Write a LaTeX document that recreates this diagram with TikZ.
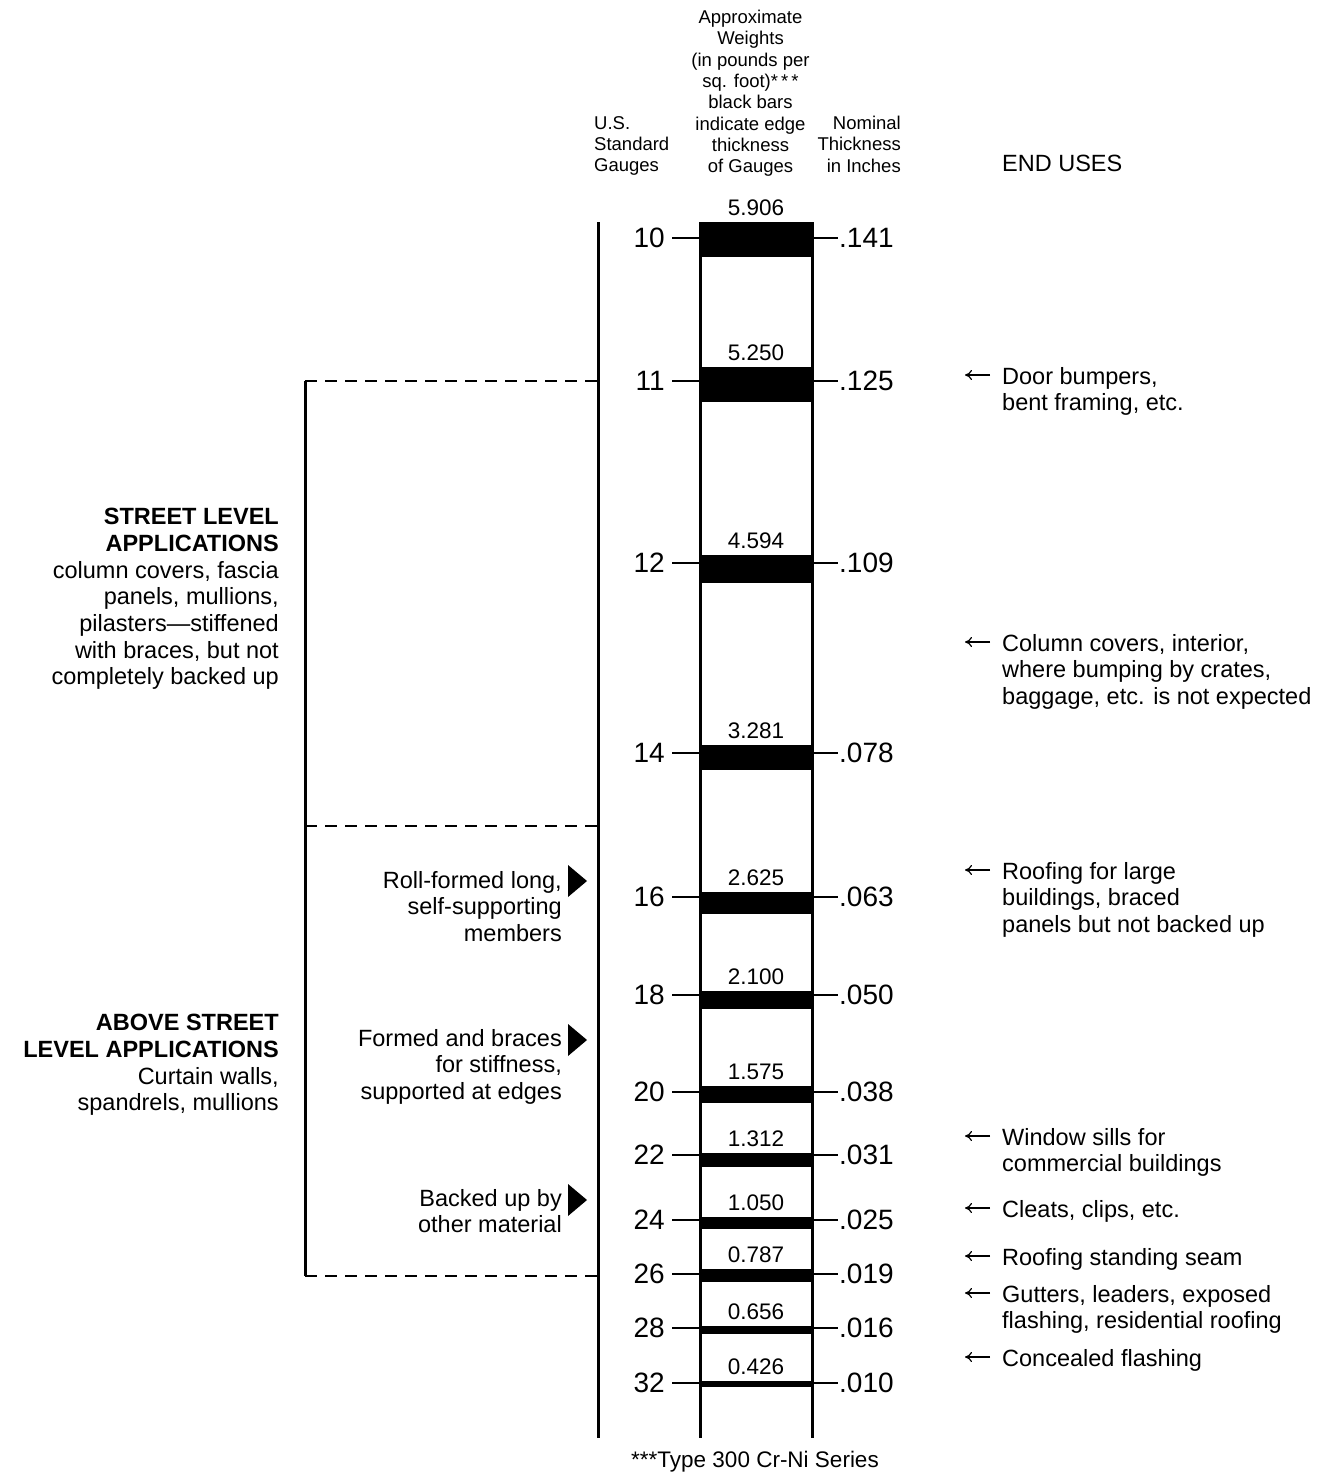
\documentclass[tikz,border=0pt]{standalone}
\usepackage{fontspec}
\setmainfont{Liberation Sans}
\usetikzlibrary{arrows.meta}

\tikzset{
  body/.style={inner sep=0pt, font=\fontsize{23.5}{26.7}\selectfont},
  head/.style={inner sep=0pt, font=\fontsize{18.5}{21.3}\selectfont},
  gauge/.style={anchor=east, inner xsep=7pt, inner ysep=0pt, font=\fontsize{28}{30}\selectfont},
  inches/.style={anchor=west, inner xsep=1pt, inner ysep=0pt, font=\fontsize{28}{30}\selectfont},
  weight/.style={anchor=base, inner sep=0pt, font=\fontsize{22.5}{24}\selectfont},
  gaugetick/.style={line width=2.5pt},
  rule/.style={line width=3pt},
  bracket/.style={line width=2.5pt, dash pattern=on 12pt off 8pt},
  enduse/.style={body, align=left, anchor=north west, inner xsep=12pt},
  usearrow/.style={line width=1.2pt, -{To[length=7pt,width=10pt]}}
}

\begin{document}
\begin{tikzpicture}[x=1pt,y=-1pt]
\useasboundingbox (0,0) rectangle (1327,1474);

\node[head, align=left, anchor=north west] (gaugehead) at (594,116) {U.S.\\Standard\\Gauges};
\node[head, align=center, anchor=north] (weighthead) at (750.5,10) {Approximate\\Weights\\(in pounds per\\sq. foot)*\,*\,*\\black bars\\indicate edge\\thickness\\of Gauges};
\node[head, align=right, anchor=north east] (inchhead) at (901,116) {Nominal\\Thickness\\in Inches};
\node[body, anchor=north west] (enduses) at (1002,155) {END USES};

\coordinate (cl) at (700,0); \coordinate (cr) at (812,0);
\draw[rule] (598,222) -- (598,1438);
\draw[rule] (700,222) -- (700,1438); \draw[rule] (812,222) -- (812,1438);

\fill (698.5,222) rectangle (813.5,257); \node[weight] (w10) at (756,215) {5.906};
\node[gauge] (g10) at (672,238) {10}; \node[inches] (t10) at (838,238) {.141};
\draw[gaugetick] (g10.east) -- (g10.east -| cl); \draw[gaugetick] (t10.west -| cr) -- (t10.west);

\fill (698.5,367) rectangle (813.5,402); \node[weight] (w11) at (756,360) {5.250};
\node[gauge] (g11) at (672,381) {11}; \node[inches] (t11) at (838,381) {.125};
\draw[gaugetick] (g11.east) -- (g11.east -| cl); \draw[gaugetick] (t11.west -| cr) -- (t11.west);

\fill (698.5,555) rectangle (813.5,583); \node[weight] (w12) at (756,548) {4.594};
\node[gauge] (g12) at (672,563) {12}; \node[inches] (t12) at (838,563) {.109};
\draw[gaugetick] (g12.east) -- (g12.east -| cl); \draw[gaugetick] (t12.west -| cr) -- (t12.west);

\fill (698.5,745) rectangle (813.5,770); \node[weight] (w14) at (756,738) {3.281};
\node[gauge] (g14) at (672,753) {14}; \node[inches] (t14) at (838,753) {.078};
\draw[gaugetick] (g14.east) -- (g14.east -| cl); \draw[gaugetick] (t14.west -| cr) -- (t14.west);

\fill (698.5,892) rectangle (813.5,914); \node[weight] (w16) at (756,885) {2.625};
\node[gauge] (g16) at (672,897) {16}; \node[inches] (t16) at (838,897) {.063};
\draw[gaugetick] (g16.east) -- (g16.east -| cl); \draw[gaugetick] (t16.west -| cr) -- (t16.west);

\fill (698.5,991) rectangle (813.5,1009); \node[weight] (w18) at (756,984) {2.100};
\node[gauge] (g18) at (672,995) {18}; \node[inches] (t18) at (838,995) {.050};
\draw[gaugetick] (g18.east) -- (g18.east -| cl); \draw[gaugetick] (t18.west -| cr) -- (t18.west);

\fill (698.5,1086) rectangle (813.5,1103); \node[weight] (w20) at (756,1079) {1.575};
\node[gauge] (g20) at (672,1092) {20}; \node[inches] (t20) at (838,1092) {.038};
\draw[gaugetick] (g20.east) -- (g20.east -| cl); \draw[gaugetick] (t20.west -| cr) -- (t20.west);

\fill (698.5,1153) rectangle (813.5,1167); \node[weight] (w22) at (756,1146) {1.312};
\node[gauge] (g22) at (672,1155) {22}; \node[inches] (t22) at (838,1155) {.031};
\draw[gaugetick] (g22.east) -- (g22.east -| cl); \draw[gaugetick] (t22.west -| cr) -- (t22.west);

\fill (698.5,1217) rectangle (813.5,1229); \node[weight] (w24) at (756,1210) {1.050};
\node[gauge] (g24) at (672,1220) {24}; \node[inches] (t24) at (838,1220) {.025};
\draw[gaugetick] (g24.east) -- (g24.east -| cl); \draw[gaugetick] (t24.west -| cr) -- (t24.west);

\fill (698.5,1269) rectangle (813.5,1282); \node[weight] (w26) at (756,1262) {0.787};
\node[gauge] (g26) at (672,1274) {26}; \node[inches] (t26) at (838,1274) {.019};
\draw[gaugetick] (g26.east) -- (g26.east -| cl); \draw[gaugetick] (t26.west -| cr) -- (t26.west);

\fill (698.5,1326) rectangle (813.5,1334); \node[weight] (w28) at (756,1319) {0.656};
\node[gauge] (g28) at (672,1328) {28}; \node[inches] (t28) at (838,1328) {.016};
\draw[gaugetick] (g28.east) -- (g28.east -| cl); \draw[gaugetick] (t28.west -| cr) -- (t28.west);

\fill (698.5,1381) rectangle (813.5,1387); \node[weight] (w32) at (756,1374) {0.426};
\node[gauge] (g32) at (672,1383) {32}; \node[inches] (t32) at (838,1383) {.010};
\draw[gaugetick] (g32.east) -- (g32.east -| cl); \draw[gaugetick] (t32.west -| cr) -- (t32.west);

\node[weight] (series) at (755,1467) {***Type 300 Cr-Ni Series};

\draw[rule] (305,381) -- (305,1276);
\draw[bracket] (305,381) -- (598,381); \draw[bracket] (305,826) -- (598,826);
\draw[bracket] (305,1276) -- (598,1276);

\node[body, align=right, anchor=north east] (street) at (279,508) {\textbf{STREET LEVEL}\\\textbf{APPLICATIONS}\\column covers, fascia\\panels, mullions,\\pilasters—stiffened\\with braces, but not\\completely backed up};
\node[body, align=right, anchor=north east] (above) at (279,1014) {\textbf{ABOVE STREET}\\\textbf{LEVEL APPLICATIONS}\\Curtain walls,\\spandrels, mullions};

\node[body, align=right, anchor=north east] (rollformed) at (562,871) {Roll-formed long,\\self-supporting\\members};
\node[body, align=right, anchor=north east] (braced) at (562,1029) {Formed and braces\\for stiffness,\\supported at edges};
\node[body, align=right, anchor=north east] (backed) at (562,1189) {Backed up by\\other material};
\fill (568,865) -- (587,881) -- (568,897) -- cycle;
\fill (568,1024) -- (587,1040) -- (568,1056) -- cycle;
\fill (568,1184) -- (587,1200) -- (568,1216) -- cycle;

\node[enduse] (door) at (990,367) {Door bumpers,\\bent framing, etc.};
\node[enduse] (column) at (990,634) {Column covers, interior,\\where bumping by crates,\\baggage, etc. is not expected};
\node[enduse] (roofing) at (990,862) {Roofing for large\\buildings, braced\\panels but not backed up};
\node[enduse] (sills) at (990,1128) {Window sills for\\commercial buildings};
\node[enduse] (cleats) at (990,1200) {Cleats, clips, etc.};
\node[enduse] (seam) at (990,1248) {Roofing standing seam};
\node[enduse] (gutters) at (990,1285) {Gutters, leaders, exposed\\flashing, residential roofing};
\node[enduse] (concealed) at (990,1349) {Concealed flashing};

\coordinate (a1) at (965,375); \coordinate (a2) at (965,642); \coordinate (a3) at (965,870);
\coordinate (a4) at (965,1136); \coordinate (a5) at (965,1208); \coordinate (a6) at (965,1256);
\coordinate (a7) at (965,1293); \coordinate (a8) at (965,1357);
\draw[usearrow] (a1 -| door.west) -- (a1); \draw[usearrow] (a2 -| column.west) -- (a2);
\draw[usearrow] (a3 -| roofing.west) -- (a3); \draw[usearrow] (a4 -| sills.west) -- (a4);
\draw[usearrow] (a5 -| cleats.west) -- (a5); \draw[usearrow] (a6 -| seam.west) -- (a6);
\draw[usearrow] (a7 -| gutters.west) -- (a7); \draw[usearrow] (a8 -| concealed.west) -- (a8);
\end{tikzpicture}
\end{document}
